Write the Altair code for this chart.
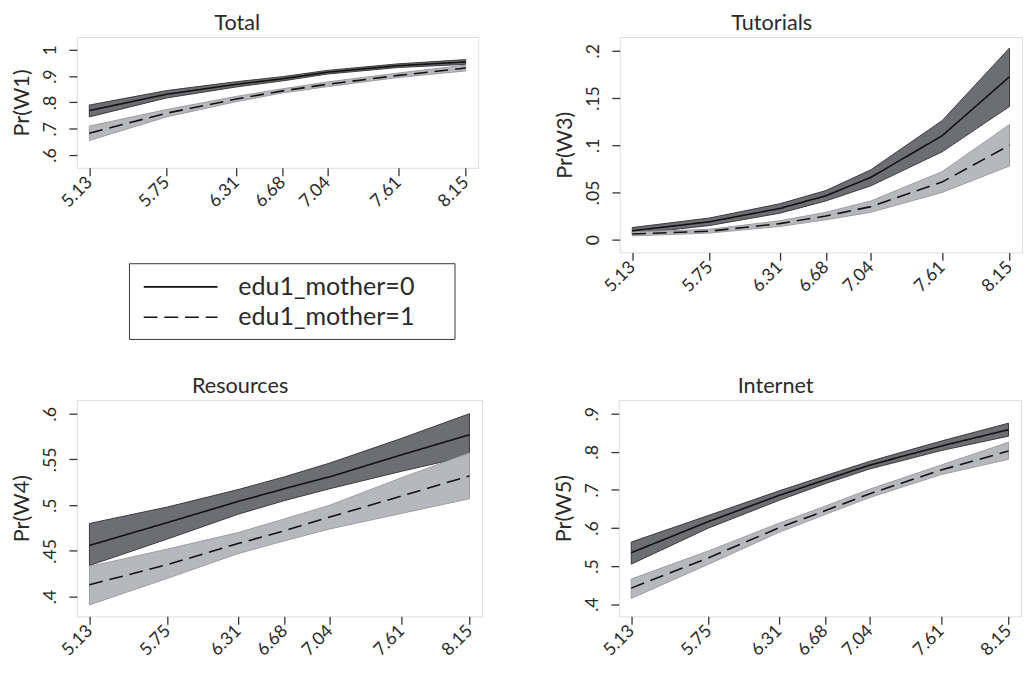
import altair as alt
import pandas as pd

x_vals = [5.13, 5.75, 6.31, 6.68, 7.04, 7.61, 8.15]
groups = ["edu1_mother=0", "edu1_mother=1"]

# Total (W1)
w1_mid0 = [0.769, 0.831, 0.869, 0.890, 0.915, 0.940, 0.954]
w1_lo0 = [0.745, 0.817, 0.859, 0.882, 0.908, 0.933, 0.945]
w1_hi0 = [0.790, 0.845, 0.879, 0.898, 0.922, 0.947, 0.963]
w1_mid1 = [0.683, 0.759, 0.813, 0.844, 0.869, 0.903, 0.931]
w1_lo1 = [0.655, 0.745, 0.803, 0.836, 0.860, 0.895, 0.920]
w1_hi1 = [0.710, 0.773, 0.823, 0.852, 0.878, 0.912, 0.942]

# Tutorials (W3)
w3_mid0 = [0.0094, 0.019, 0.033, 0.0465, 0.066, 0.110, 0.1726]
w3_lo0 = [0.0059, 0.015, 0.028, 0.041, 0.057, 0.093, 0.141]
w3_hi0 = [0.0128, 0.023, 0.038, 0.052, 0.074, 0.126, 0.203]
w3_mid1 = [0.006, 0.009, 0.017, 0.025, 0.035, 0.061, 0.100]
w3_lo1 = [0.004, 0.007, 0.014, 0.021, 0.029, 0.050, 0.078]
w3_hi1 = [0.008, 0.011, 0.020, 0.029, 0.041, 0.072, 0.122]

# Resources (W4)
w4_mid0 = [0.456, 0.481, 0.504, 0.518, 0.531, 0.555, 0.577]
w4_lo0 = [0.434, 0.463, 0.490, 0.505, 0.518, 0.537, 0.554]
w4_hi0 = [0.480, 0.498, 0.517, 0.531, 0.546, 0.573, 0.600]
w4_mid1 = [0.413, 0.435, 0.458, 0.472, 0.487, 0.510, 0.532]
w4_lo1 = [0.391, 0.420, 0.447, 0.461, 0.474, 0.491, 0.507]
w4_hi1 = [0.433, 0.452, 0.470, 0.485, 0.500, 0.530, 0.557]

# Internet (W5)
w5_mid0 = [0.535, 0.617, 0.685, 0.726, 0.765, 0.815, 0.858]
w5_lo0 = [0.505, 0.600, 0.672, 0.716, 0.755, 0.803, 0.841]
w5_hi0 = [0.563, 0.633, 0.697, 0.737, 0.775, 0.828, 0.875]
w5_mid1 = [0.442, 0.522, 0.600, 0.645, 0.690, 0.752, 0.802]
w5_lo1 = [0.415, 0.505, 0.588, 0.635, 0.680, 0.740, 0.780]
w5_hi1 = [0.466, 0.540, 0.612, 0.657, 0.702, 0.765, 0.825]

FONT = "Lato"
TXT = "#2a2a2a"
band_fill = ["#6d6e71", "#b7b8bb"]
band_edge = ["#3a3a3c", "#9c9da0"]


def make_df(m0, l0, h0, m1, l1, h1):
    rows = []
    for i, xv in enumerate(x_vals):
        rows.append({"x": xv, "group": groups[0], "mid": m0[i], "lo": l0[i], "hi": h0[i]})
    for i, xv in enumerate(x_vals):
        rows.append({"x": xv, "group": groups[1], "mid": m1[i], "lo": l1[i], "hi": h1[i]})
    return pd.DataFrame(rows)


ylab_expr = ("(datum.value == 0 || datum.value >= 1) ? format(datum.value, '~g') : "
             "substring(format(datum.value, '.2~f'), 1)")


def panel(df, title, title_dx, ytitle, ydomain, yticks, width, height, legend=False):
    base = alt.Chart(df)
    xenc = alt.X(
        "x:Q",
        scale=alt.Scale(domain=[5.03, 8.25], nice=False, zero=False),
        axis=alt.Axis(values=x_vals, format=".2f", labelAngle=315, labelAlign="right",
                      labelBaseline="middle", title=None, grid=False, domain=False,
                      tickSize=8, tickColor="#333333", tickWidth=1.3, labelPadding=4,
                      labelFont=FONT, labelFontSize=18, labelColor=TXT, labelOverlap=False,
                      labelFlush=False),
    )
    yscale = alt.Scale(domain=ydomain, nice=False, zero=False)
    yaxis = alt.Axis(values=yticks, labelExpr=ylab_expr, labelAngle=270, labelAlign="center",
                     labelBaseline="bottom", title=ytitle, titleFont=FONT, titleFontSize=22,
                     titleFontWeight="normal", titleColor=TXT, titlePadding=8, grid=False,
                     domain=False, tickSize=8, tickColor="#333333", tickWidth=1.3,
                     labelPadding=10, labelFont=FONT, labelFontSize=18, labelColor=TXT,
                     labelOverlap=False, labelFlush=False)
    band = base.mark_area(strokeWidth=1.0, opacity=1).encode(
        x=xenc,
        y=alt.Y("lo:Q", scale=yscale, axis=yaxis),
        y2="hi:Q",
        fill=alt.Fill("group:N", scale=alt.Scale(domain=groups, range=band_fill), legend=None),
        stroke=alt.Stroke("group:N", scale=alt.Scale(domain=groups, range=band_edge), legend=None),
        order=alt.Order("group:N"),
    )
    if legend:
        leg = alt.Legend(
            title="MM", titleOrient="right", titleColor="white", titleFontSize=17,
            titlePadding=4, orient="none", legendX=53, legendY=230, direction="vertical",
            padding=8, strokeColor="#333333", fillColor="white",
            symbolType="M-0.6,0H4.4", symbolSize=900, symbolStrokeWidth=1.6,
            symbolStrokeColor="#111111", labelOffset=71, rowPadding=1,
            labelFont=FONT, labelFontSize=25.5, labelColor=TXT, labelLimit=400,
        )
    else:
        leg = None
    line = base.mark_line(color="#111111", strokeWidth=1.6).encode(
        x=xenc,
        y=alt.Y("mid:Q", scale=yscale, axis=yaxis),
        strokeDash=alt.StrokeDash("group:N", scale=alt.Scale(domain=groups, range=[[1, 0], [14, 7]]),
                                  legend=leg),
    )
    return alt.layer(band, line).properties(
        width=width, height=height,
        title=alt.TitleParams(title, font=FONT, fontSize=22, fontWeight="normal", color=TXT,
                              anchor="middle", offset=-15, baseline="alphabetic", dx=title_dx),
    ).resolve_scale(strokeDash="independent", fill="independent", stroke="independent")


p1 = panel(make_df(w1_mid0, w1_lo0, w1_hi0, w1_mid1, w1_lo1, w1_hi1), "Total", -41, "Pr(W1)",
           [0.551, 1.049], [0.6, 0.7, 0.8, 0.9, 1.0], 408, 133, legend=True)
p3 = panel(make_df(w3_mid0, w3_lo0, w3_hi0, w3_mid1, w3_lo1, w3_hi1), "Tutorials", -50, "Pr(W3)",
           [-0.0135, 0.2146], [0, 0.05, 0.1, 0.15, 0.2], 409, 219)
p4 = panel(make_df(w4_mid0, w4_lo0, w4_hi0, w4_mid1, w4_lo1, w4_hi1), "Resources", -40, "Pr(W4)",
           [0.3785, 0.615], [0.4, 0.45, 0.5, 0.55, 0.6], 412, 220)
p5 = panel(make_df(w5_mid0, w5_lo0, w5_hi0, w5_mid1, w5_lo1, w5_hi1), "Internet", -45, "Pr(W5)",
           [0.368, 0.936], [0.4, 0.5, 0.6, 0.7, 0.8, 0.9], 409, 220)

row1 = alt.hconcat(p1, p3, spacing=75).resolve_scale(strokeDash="independent", fill="independent", stroke="independent")
row2 = alt.hconcat(p4, p5, spacing=70).resolve_scale(strokeDash="independent", fill="independent", stroke="independent")
chart = alt.vconcat(row1, row2, spacing=35).resolve_scale(
    strokeDash="independent", fill="independent", stroke="independent"
).properties(padding={"left": 2, "top": -2, "right": 0, "bottom": 0}).configure_view(
    stroke="#2e2e2e", strokeWidth=1.5
).configure_title(fontWeight="normal").configure(background="white")

chart.save("out.html", embed_options={"renderer": "svg", "actions": False})
